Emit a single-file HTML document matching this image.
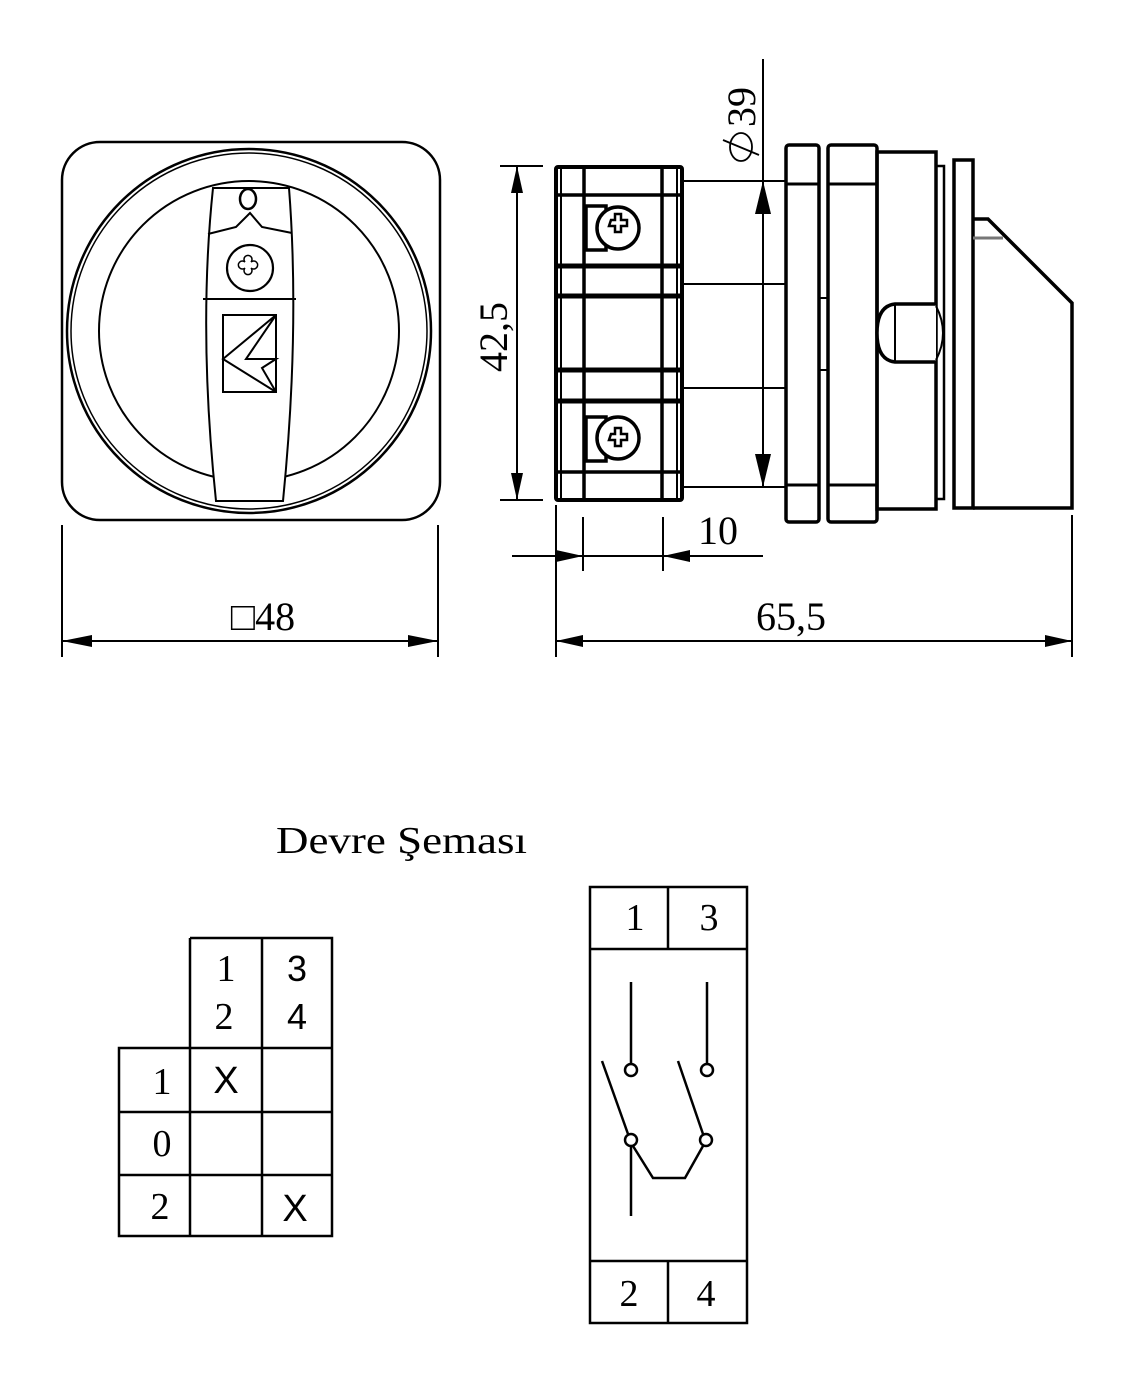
<!DOCTYPE html>
<html><head><meta charset="utf-8"><style>
html,body{margin:0;padding:0;background:#fff}
svg{display:block}
text{font-family:"Liberation Serif",serif;fill:#000}
.s{font-family:"Liberation Sans",sans-serif}
</style></head><body>
<svg width="1133" height="1384" viewBox="0 0 1133 1384" xmlns="http://www.w3.org/2000/svg">
<g fill="none" stroke="#000" stroke-width="2">
<rect x="62" y="142" width="378" height="378" rx="38" stroke-width="2.5"/>
<circle cx="249" cy="331" r="182" stroke-width="2.5"/>
<circle cx="249" cy="331" r="178" stroke-width="1.5"/>
<circle cx="249" cy="331" r="150" stroke-width="2"/>
<path d="M213,188 Q198,330 216,501 L283,501 Q300,330 289,188 Z" fill="#fff" stroke-width="2"/>
<line x1="203" y1="299" x2="296" y2="299"/>
<path d="M208,234 L236,227 L250,213 L262,227 L292,233"/>
<ellipse cx="248" cy="199" rx="8" ry="10" stroke-width="2.5"/>
<circle cx="250" cy="268" r="23" stroke-width="2.2"/>
<path d="M245,262 a4,4 0 1,1 6,0 a4,4 0 1,1 0,6 a4,4 0 1,1 -6,0 a4,4 0 1,1 0,-6z" stroke-width="1.5"/>
<rect x="223" y="315" width="53" height="77"/>
<path d="M223,359 L276,315 L246,359 L276,359 L262,368 L276,392 Z"/>
<rect x="556" y="167" width="126" height="333" rx="2" stroke-width="4"/>
<line x1="561" y1="167" x2="561" y2="500" stroke-width="2"/>
<line x1="584" y1="167" x2="584" y2="500" stroke-width="3.5"/>
<line x1="662" y1="167" x2="662" y2="500" stroke-width="3.5"/>
<line x1="677" y1="167" x2="677" y2="500" stroke-width="2"/>
<line x1="556" y1="195" x2="682" y2="195" stroke-width="3.5"/>
<line x1="556" y1="266" x2="682" y2="266" stroke-width="5"/>
<line x1="556" y1="296" x2="682" y2="296" stroke-width="5"/>
<line x1="556" y1="370" x2="682" y2="370" stroke-width="5"/>
<line x1="556" y1="401" x2="682" y2="401" stroke-width="5"/>
<line x1="556" y1="472" x2="682" y2="472" stroke-width="3.5"/>
<g stroke-width="3.5">
<rect x="586" y="206" width="20" height="44"/>
<circle cx="618" cy="228" r="21" fill="#fff"/>
<path d="M611,220 h4 v-6 h6 v6 h6 v6 h-6 v6 h-6 v-6 h-6 z" stroke-width="2.5"/>
<rect x="586" y="417" width="20" height="44"/>
<circle cx="618" cy="438" r="21" fill="#fff"/>
<path d="M611,434 h4 v-6 h6 v6 h6 v6 h-6 v6 h-6 v-6 h-6 z" stroke-width="2.5"/>
</g>
<line x1="682" y1="181" x2="786" y2="181"/>
<line x1="682" y1="284" x2="786" y2="284"/>
<line x1="682" y1="388" x2="786" y2="388"/>
<line x1="682" y1="487" x2="786" y2="487"/>
<rect x="786" y="145" width="33" height="377" rx="3" stroke-width="3.5"/>
<rect x="828" y="145" width="49" height="377" rx="3" stroke-width="3.5"/>
<line x1="786" y1="184" x2="819" y2="184" stroke-width="3"/>
<line x1="786" y1="485" x2="819" y2="485" stroke-width="3"/>
<line x1="828" y1="184" x2="877" y2="184" stroke-width="3"/>
<line x1="828" y1="485" x2="877" y2="485" stroke-width="3"/>
<line x1="819" y1="298" x2="828" y2="298"/>
<line x1="819" y1="370" x2="828" y2="370"/>
<rect x="877" y="152" width="59" height="357" stroke-width="3.5"/>
<rect x="936" y="166" width="8" height="333" stroke-width="2.5"/>
<path d="M954,160 L973,160 L973,508 L954,508 Z" stroke-width="3.5"/>
<path d="M973,219 L988,219 L1072,303 L1072,508 L973,508" stroke-width="3.5"/>
<line x1="973" y1="238" x2="1003" y2="238" stroke="#777" stroke-width="3"/>
<path d="M936,304 L895,304 Q877,306 877,333 Q877,360 895,362 L936,362" fill="#fff" stroke-width="3.5"/>
<path d="M936,306 Q950,333 936,360" stroke-width="2"/>
<line x1="895" y1="304" x2="895" y2="362" stroke-width="2"/>
<line x1="763" y1="59" x2="763" y2="487" stroke-width="2"/>
<line x1="500" y1="166" x2="543" y2="166"/>
<line x1="500" y1="500" x2="543" y2="500"/>
<line x1="517" y1="166" x2="517" y2="500"/>
<line x1="556" y1="505" x2="556" y2="657"/>
<line x1="583" y1="517" x2="583" y2="571"/>
<line x1="663" y1="517" x2="663" y2="571"/>
<line x1="512" y1="556" x2="763" y2="556"/>
<line x1="1072" y1="515" x2="1072" y2="657"/>
<line x1="556" y1="641" x2="1072" y2="641"/>
<line x1="62" y1="525" x2="62" y2="657"/>
<line x1="438" y1="525" x2="438" y2="657"/>
<line x1="62" y1="641" x2="438" y2="641"/>
<ellipse cx="741" cy="147" rx="11" ry="14" stroke-width="1.8"/>
<line x1="723" y1="140" x2="759" y2="155" stroke-width="1.8"/>
<g stroke-width="2.5">
<path d="M190,938 H332 V1236 H119 V1048 H332 M190,938 V1236 M262,938 V1236 M119,1112 H332 M119,1175 H332"/>
<rect x="590" y="887" width="157" height="436"/>
<line x1="590" y1="949" x2="747" y2="949"/>
<line x1="590" y1="1261" x2="747" y2="1261"/>
<line x1="668" y1="887" x2="668" y2="949"/>
<line x1="668" y1="1261" x2="668" y2="1323"/>
<line x1="631" y1="982" x2="631" y2="1063"/>
<line x1="707" y1="982" x2="707" y2="1063"/>
<circle cx="631" cy="1070" r="6"/>
<circle cx="707" cy="1070" r="6"/>
<circle cx="631" cy="1140" r="6"/>
<circle cx="706" cy="1140" r="6"/>
<line x1="602" y1="1061" x2="628" y2="1134"/>
<line x1="678" y1="1061" x2="703" y2="1134"/>
<path d="M633,1146 L653,1178 L685,1178 L703,1146"/>
<line x1="631" y1="1146" x2="631" y2="1216"/>
</g>
</g>
<g fill="#000">
<polygon points="517,166 511,193 523,193"/>
<polygon points="517,500 511,473 523,473"/>
<polygon points="763,181 755,214 771,214"/>
<polygon points="763,487 755,454 771,454"/>
<polygon points="583,556 556,550 556,562"/>
<polygon points="663,556 690,550 690,562"/>
<polygon points="556,641 583,635 583,647"/>
<polygon points="1072,641 1045,635 1045,647"/>
<polygon points="62,641 92,635 92,647"/>
<polygon points="438,641 408,635 408,647"/>
</g>
<text x="0" y="0" font-size="40" transform="translate(507,337) rotate(-90)" text-anchor="middle">42,5</text>
<text x="0" y="0" font-size="40" transform="translate(755,107) rotate(-90)" text-anchor="middle">39</text>
<text x="718" y="544" font-size="40" text-anchor="middle">10</text>
<text x="791" y="630" font-size="40" text-anchor="middle">65,5</text>
<text x="263" y="630" font-size="40" text-anchor="middle">□48</text>
<text x="276" y="853" font-size="38" textLength="251" lengthAdjust="spacingAndGlyphs">Devre Şeması</text>
<g font-size="38" text-anchor="middle">
<text x="226" y="981">1</text>
<text x="224" y="1029">2</text>
<text class="s" x="297" y="981" font-size="36">3</text>
<text class="s" x="297" y="1029" font-size="36">4</text>
<text x="162" y="1094">1</text>
<text x="162" y="1156">0</text>
<text x="160" y="1219">2</text>
<text class="s" x="226" y="1093" font-size="38">X</text>
<text class="s" x="295" y="1221" font-size="38">X</text>
<text x="635" y="930">1</text>
<text x="709" y="930">3</text>
<text x="629" y="1306">2</text>
<text x="706" y="1306">4</text>
</g>
</svg>
</body></html>
